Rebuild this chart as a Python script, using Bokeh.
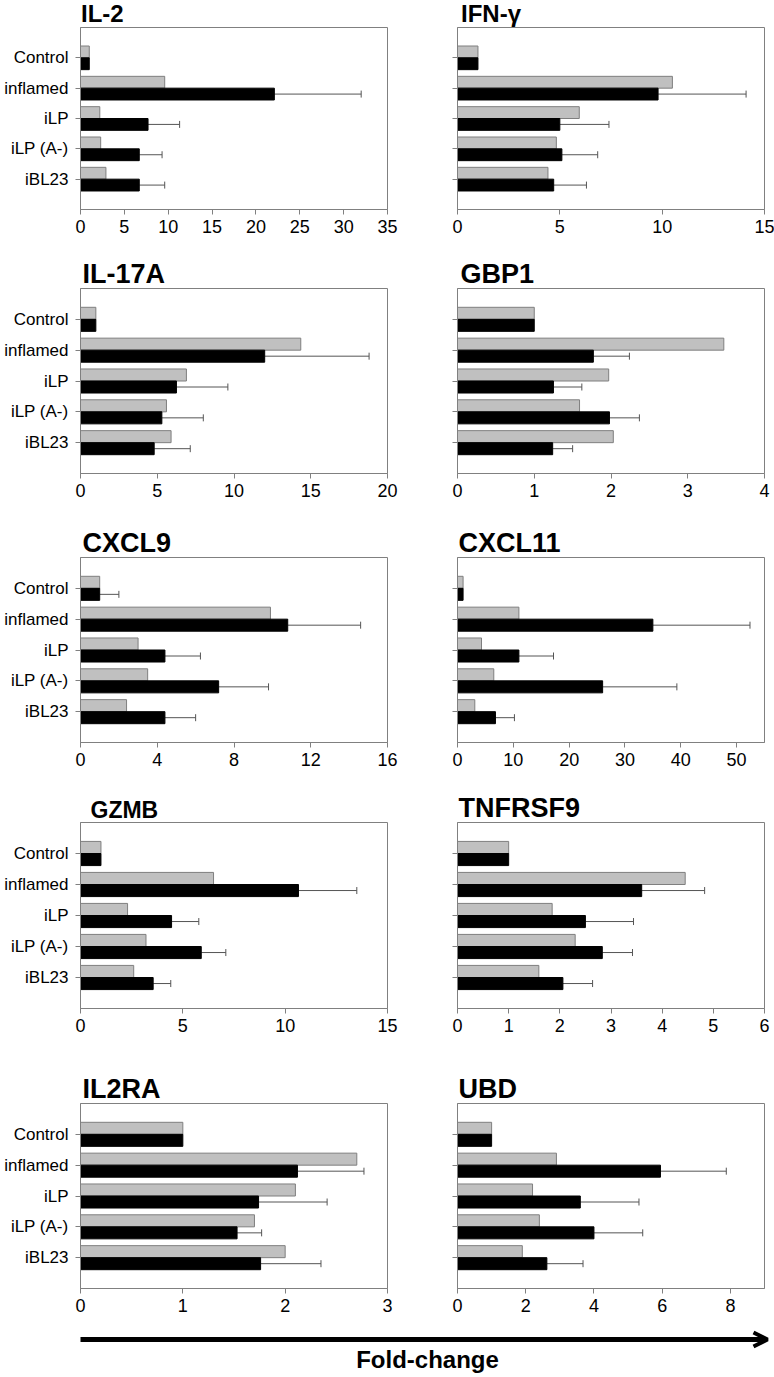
from bokeh.plotting import figure
from bokeh.layouts import column, row
from bokeh.models import (Range1d, FixedTicker, SingleIntervalTicker, ColumnDataSource,
                          Whisker, TeeHead, Arrow, OpenHead, Label, CustomJSTickFormatter, Div)
from bokeh.embed import file_html
from bokeh.resources import INLINE

# ---------------- data ----------------
groups = ["Control", "inflamed", "iLP", "iLP (A-)", "iBL23"]

genes = ["IL-2", "IFN-γ", "IL-17A", "GBP1", "CXCL9", "CXCL11", "GZMB", "TNFRSF9", "IL2RA", "UBD"]

il2_gray = [1.0, 9.6, 2.2, 2.3, 2.9]
il2_black = [1.0, 22.1, 7.7, 6.7, 6.7]
il2_err = [0.0, 9.9, 3.6, 2.6, 2.9]

ifng_gray = [1.0, 10.5, 5.95, 4.83, 4.42]
ifng_black = [1.0, 9.8, 5.0, 5.1, 4.7]
ifng_err = [0.0, 4.3, 2.4, 1.75, 1.6]

il17a_gray = [1.0, 14.35, 6.9, 5.6, 5.9]
il17a_black = [1.0, 12.0, 6.25, 5.3, 4.8]
il17a_err = [0.0, 6.8, 3.35, 2.7, 2.35]

gbp1_gray = [1.0, 3.47, 1.97, 1.59, 2.03]
gbp1_black = [1.0, 1.77, 1.25, 1.98, 1.24]
gbp1_err = [0.0, 0.47, 0.37, 0.39, 0.26]

cxcl9_gray = [1.0, 9.9, 3.0, 3.5, 2.4]
cxcl9_black = [1.0, 10.8, 4.4, 7.2, 4.4]
cxcl9_err = [1.0, 3.8, 1.85, 2.6, 1.6]

cxcl11_gray = [1.0, 11.0, 4.3, 6.5, 3.1]
cxcl11_black = [1.0, 35.0, 11.0, 26.0, 6.8]
cxcl11_err = [0.0, 17.4, 6.2, 13.3, 3.4]

gzmb_gray = [1.0, 6.5, 2.3, 3.2, 2.6]
gzmb_black = [1.0, 10.65, 4.45, 5.9, 3.55]
gzmb_err = [0.0, 2.85, 1.33, 1.2, 0.86]

tnfrsf9_gray = [1.0, 4.45, 1.85, 2.3, 1.59]
tnfrsf9_black = [1.0, 3.6, 2.5, 2.83, 2.06]
tnfrsf9_err = [0.0, 1.23, 0.94, 0.59, 0.58]

il2ra_gray = [1.0, 2.7, 2.1, 1.7, 2.0]
il2ra_black = [1.0, 2.12, 1.74, 1.53, 1.76]
il2ra_err = [0.0, 0.65, 0.67, 0.24, 0.59]

ubd_gray = [1.0, 2.9, 2.2, 2.4, 1.9]
ubd_black = [1.0, 5.95, 3.6, 4.0, 2.62]
ubd_err = [0.0, 1.93, 1.72, 1.43, 1.06]

x_max = [35, 15, 20, 4, 16, 55, 15, 6, 3, 9]
x_step = [5, 5, 5, 1, 4, 10, 5, 1, 1, 2]

series = [
    (il2_gray, il2_black, il2_err),
    (ifng_gray, ifng_black, ifng_err),
    (il17a_gray, il17a_black, il17a_err),
    (gbp1_gray, gbp1_black, gbp1_err),
    (cxcl9_gray, cxcl9_black, cxcl9_err),
    (cxcl11_gray, cxcl11_black, cxcl11_err),
    (gzmb_gray, gzmb_black, gzmb_err),
    (tnfrsf9_gray, tnfrsf9_black, tnfrsf9_err),
    (il2ra_gray, il2ra_black, il2ra_err),
    (ubd_gray, ubd_black, ubd_err),
]

# ---------------- style / layout ----------------
FONT = "Liberation Sans"
GRAY_FILL = "#c0c0c0"
GRAY_LINE = "#7f7f7f"
AXIS = "#808080"
ERR = "#555555"
BAR_H = 0.39

HEAD_H = 27                       # strip holding the first row's titles
row_h = [250 - HEAD_H, 270, 265, 277, 258]
row_top = [0, 38, 37, 37, 41]
frame_h = [182, 185, 185, 186, 185]
title_size = ["24px", "24px", "27px", "27px", "27px", "27px", "23px", "27px", "27px", "27px"]
title_dx = [1, 4, 2, 3, 2, 1, 10, 1, 2, 1]

LEFT_W, LEFT_B, RIGHT_W, RIGHT_B = 398, 80, 376, 59
FRAME_W = 307


def make_panel(i):
    r = i // 2
    left = (i % 2 == 0)
    gray, black, err = series[i]
    n = len(groups)
    pos = [n - k for k in range(n)]
    w = LEFT_W if left else RIGHT_W
    bl = LEFT_B if left else RIGHT_B
    h = row_h[r]
    p = figure(width=w, height=h, output_backend="svg", toolbar_location=None,
               x_range=Range1d(0, x_max[i]), y_range=Range1d(0, n + 1),
               min_border_left=bl, min_border_right=w - bl - FRAME_W,
               min_border_top=row_top[r], min_border_bottom=h - row_top[r] - frame_h[r])
    p.background_fill_color = "white"
    p.border_fill_color = "white"
    p.outline_line_color = AXIS
    p.outline_line_width = 1
    p.grid.visible = False

    if r > 0:
        p.title.text = genes[i]
        p.title.text_font = FONT
        p.title.text_font_style = "bold"
        p.title.text_font_size = title_size[i]
        p.title.text_color = "black"
        p.title.align = "left"
        p.title.offset = title_dx[i]
        p.title.standoff = 0

    src = ColumnDataSource(dict(
        yg=[v + BAR_H / 2 for v in pos],
        yb=[v - BAR_H / 2 for v in pos],
        gray=gray, black=black,
    ))
    p.hbar(y="yg", right="gray", left=0, height=BAR_H, source=src,
           fill_color=GRAY_FILL, line_color=GRAY_LINE, line_width=1)
    p.hbar(y="yb", right="black", left=0, height=BAR_H, source=src,
           fill_color="black", line_color="black", line_width=1)

    ew = [(pos[k] - BAR_H / 2, black[k], black[k] + err[k]) for k in range(n) if err[k] > 0]
    esrc = ColumnDataSource(dict(base=[e[0] for e in ew], lower=[e[1] for e in ew],
                                 upper=[e[2] for e in ew]))
    p.add_layout(Whisker(source=esrc, base="base", lower="lower", upper="upper",
                         dimension="width", line_color=ERR, line_width=1,
                         lower_head=None,
                         upper_head=TeeHead(size=7, line_color=ERR, line_width=1)))

    xa = p.xaxis[0]
    xa.ticker = SingleIntervalTicker(interval=x_step[i], num_minor_ticks=0)
    xa.axis_line_color = AXIS
    xa.major_tick_line_color = AXIS
    xa.major_tick_in = 0
    xa.major_tick_out = 5
    xa.minor_tick_line_color = None
    xa.major_label_text_font = FONT
    xa.major_label_text_font_size = "18px"
    xa.major_label_text_color = "black"
    xa.major_label_standoff = 5

    ya = p.yaxis[0]
    ya.ticker = FixedTicker(ticks=pos)
    ya.axis_line_color = AXIS
    ya.major_tick_line_color = AXIS
    ya.major_tick_in = 0
    ya.major_tick_out = 5
    ya.minor_tick_line_color = None
    ya.major_label_text_font = FONT
    ya.major_label_text_font_size = "17px"
    ya.major_label_text_color = "black"
    ya.major_label_standoff = 7
    if left:
        ya.major_label_overrides = {pos[k]: groups[k] for k in range(n)}
    else:
        ya.formatter = CustomJSTickFormatter(code="return ''")
    return p


def head_div(i, w, pad_left):
    html = ('<div style="margin:0;padding:0 0 0 %dpx;font-family:\'%s\';font-weight:bold;'
            'font-size:%s;line-height:%dpx;color:black;white-space:nowrap;">%s</div>'
            % (pad_left, FONT, title_size[i], HEAD_H, genes[i]))
    return Div(text=html, width=w, height=HEAD_H, margin=0)


head = row(head_div(0, LEFT_W, LEFT_B + title_dx[0]),
           head_div(1, RIGHT_W, RIGHT_B + title_dx[1]))

rows = []
for r in range(5):
    rows.append(row(make_panel(2 * r), make_panel(2 * r + 1)))

ARROW_H = 1376 - HEAD_H - sum(row_h)
total_w = LEFT_W + RIGHT_W
af = figure(width=total_w, height=ARROW_H, output_backend="svg", toolbar_location=None,
            x_range=Range1d(0, total_w), y_range=Range1d(0, ARROW_H),
            x_axis_type=None, y_axis_type=None, min_border=0)
af.outline_line_color = None
af.grid.visible = False
af.background_fill_color = "white"
af.border_fill_color = "white"
af.add_layout(Arrow(x_start=LEFT_B, y_start=ARROW_H - 19, x_end=total_w - 7, y_end=ARROW_H - 19,
                    line_width=5, line_color="black",
                    end=OpenHead(size=14, line_width=4, line_color="black")))
af.add_layout(Label(x=427, y=4, text="Fold-change", text_font=FONT, text_font_style="bold",
                    text_font_size="24px", text_align="center", text_baseline="bottom",
                    text_color="black"))

layout = column(head, *rows, af)

open("out.html", "w").write(file_html(layout, INLINE))
